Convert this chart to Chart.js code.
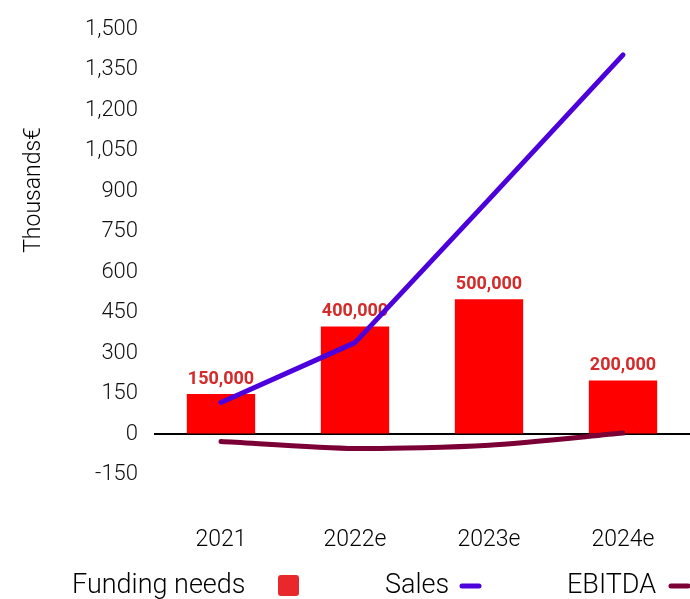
<!DOCTYPE html>
<html>
<head>
<meta charset="utf-8">
<title>Funding needs, Sales and EBITDA</title>
<script src="https://cdn.jsdelivr.net/npm/chart.js@4.4.1/dist/chart.umd.min.js"></script>
<style>
  html, body { margin: 0; padding: 0; background: #fff; }
  #chart { display: block; }
</style>
</head>
<body>
<canvas id="chart" width="690" height="599"></canvas>
<script>
// values in thousands of euros
const categories = ["2021", "2022e", "2023e", "2024e"];
const fundingNeeds = [150, 400, 500, 200];
const sales = [118, 340, 870, 1405];
const ebitda = [-26, -52, -40, 5];
const yTicks = [-150, 0, 150, 300, 450, 600, 750, 900, 1050, 1200, 1350, 1500];

const FONT = "Roboto, 'Liberation Sans', Arial, sans-serif";
const fmt = (v) => v.toLocaleString("en-US");

// value labels above each funding bar, drawn before the lines so they sit underneath
const barLabels = {
  id: "barLabels",
  afterDatasetDraw(chart, args) {
    if (args.index !== 0) return;
    const { ctx } = chart;
    ctx.save();
    ctx.font = "bold 18px " + FONT;
    ctx.fillStyle = "#d42a2a";
    ctx.textAlign = "center";
    ctx.textBaseline = "alphabetic";
    args.meta.data.forEach((bar, i) => {
      ctx.fillText(fmt(fundingNeeds[i] * 1000), bar.x, bar.y - 10);
    });
    ctx.restore();
  },
};

// rotated y title and the legend row at the bottom
const decorations = {
  id: "decorations",
  afterDraw(chart) {
    const { ctx } = chart;
    ctx.save();
    ctx.fillStyle = "#000";
    ctx.font = "300 23px " + FONT;
    ctx.translate(34, 190);
    ctx.rotate(-Math.PI / 2);
    ctx.textAlign = "center";
    ctx.textBaseline = "middle";
    ctx.fillText("Thousands€", 0, 0);
    ctx.restore();

    const items = [
      { text: "Funding needs", x: 72, mx: 278, color: "#e8282a", kind: "box" },
      { text: "Sales", x: 385, mx: 460, color: "#4c00dc", kind: "line" },
      { text: "EBITDA", x: 567, mx: 669, color: "#7b0036", kind: "line" },
    ];
    const y = 586;
    ctx.save();
    ctx.font = "300 27px " + FONT;
    ctx.textBaseline = "middle";
    ctx.textAlign = "left";
    items.forEach((it) => {
      ctx.fillStyle = "#000";
      ctx.fillText(it.text, it.x, y);
      ctx.fillStyle = it.color;
      ctx.strokeStyle = it.color;
      if (it.kind === "box") {
        ctx.beginPath();
        ctx.roundRect(it.mx, y - 11, 21, 21, 3);
        ctx.fill();
      } else {
        ctx.lineWidth = 5;
        ctx.lineCap = "round";
        ctx.beginPath();
        ctx.moveTo(it.mx + 2, y);
        ctx.lineTo(it.mx + 19, y);
        ctx.stroke();
      }
    });
    ctx.restore();
  },
};

new Chart(document.getElementById("chart"), {
  data: {
    labels: categories,
    datasets: [
      {
        type: "bar",
        label: "Funding needs",
        data: fundingNeeds,
        backgroundColor: "#ff0000",
        barPercentage: 0.51,
        categoryPercentage: 1,
        order: 3,
      },
      {
        type: "line",
        label: "Sales",
        data: sales,
        borderColor: "#4c00dc",
        borderWidth: 5,
        borderCapStyle: "round",
        borderJoinStyle: "round",
        pointRadius: 0,
        tension: 0,
        order: 1,
      },
      {
        type: "line",
        label: "EBITDA",
        data: ebitda,
        borderColor: "#7b0036",
        borderWidth: 5,
        borderCapStyle: "round",
        borderJoinStyle: "round",
        pointRadius: 0,
        tension: 0.25,
        order: 2,
      },
    ],
  },
  options: {
    responsive: false,
    devicePixelRatio: 1,
    animation: false,
    layout: { padding: { top: 28, right: 0, bottom: 47, left: 0 } },
    plugins: { legend: { display: false }, tooltip: { enabled: false } },
    scales: {
      x: {
        offset: true,
        grid: { display: false },
        border: { display: false },
        ticks: { color: "#000", padding: 16, font: { family: FONT, size: 23, weight: 300 } },
        afterFit: (s) => { s.height = 50; },
      },
      y: {
        min: -250,
        max: 1500,
        afterBuildTicks: (s) => { s.ticks = yTicks.map((v) => ({ value: v })); },
        ticks: {
          color: "#111",
          padding: 16,
          font: { family: FONT, size: 22, weight: 300 },
          callback: (v) => fmt(v),
        },
        grid: {
          drawTicks: false,
          lineWidth: 2,
          color: (c) => (c.tick && c.tick.value === 0 ? "#000" : "rgba(0,0,0,0)"),
        },
        border: { display: false },
        afterFit: (s) => { s.width = 154; },
      },
    },
  },
  plugins: [barLabels, decorations],
});
</script>
</body>
</html>
